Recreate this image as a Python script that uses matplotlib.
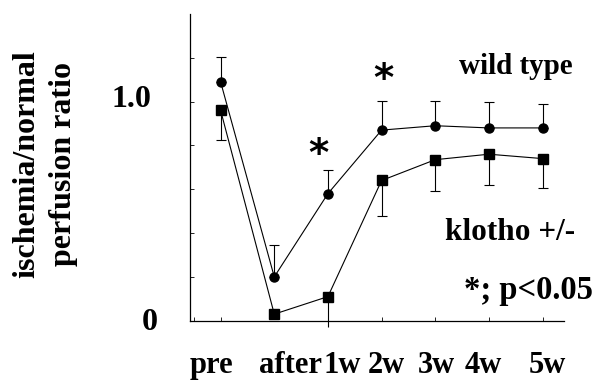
import matplotlib
matplotlib.use("Agg")
import matplotlib.pyplot as plt
import numpy as np

categories = ["pre", "after", "1w", "2w", "3w", "4w", "5w"]
wild_type = [1.09, 0.20, 0.58, 0.87, 0.89, 0.88, 0.88]
wild_err = [0.115, 0.145, 0.11, 0.135, 0.115, 0.12, 0.11]
klotho = [0.96, 0.03, 0.11, 0.64, 0.735, 0.76, 0.74]
klotho_err = [0.135, 0.0, 0.14, 0.16, 0.145, 0.14, 0.135]

W, H = 595, 382
fig = plt.figure(figsize=(W / 100, H / 100), dpi=100)
ax = fig.add_axes([189.5 / W, 1 - 320.7 / H, (564 - 189.5) / W, (320.7 - 14) / H])

serif = ["Liberation Serif", "DejaVu Serif"]
x = np.arange(len(categories))

# wild type: upper error bars only
ax.errorbar(x, wild_type, yerr=[np.zeros(len(x)), wild_err], fmt="-o", color="black",
            lw=0.8, ms=6.5, elinewidth=0.8, capsize=3.5, capthick=0.8, clip_on=False, zorder=3)
# klotho: lower error bars only
eb = ax.errorbar(x, klotho, yerr=[klotho_err, np.zeros(len(x))], fmt="-s", color="black",
                 lw=0.8, ms=6.5, elinewidth=0.8, capsize=3.5, capthick=0.8, clip_on=False, zorder=3)
for cl in eb[1]:
    cl.set_clip_on(False)
    cl.set_markevery([i for i in range(len(x)) if klotho_err[i] > 0 and i != 2])
for lc in eb[2]:
    lc.set_clip_on(False)

ax.set_xlim(-0.58, 6.40)
ax.set_ylim(0, 1.4)
for s in ["top", "right"]:
    ax.spines[s].set_visible(False)
for s in ["left", "bottom"]:
    ax.spines[s].set_linewidth(0.9)

ax.set_yticks(np.arange(0.2, 1.3, 0.2))
ax.set_yticklabels([])
ax.tick_params(axis="y", direction="in", length=3, width=0.6)
ax.set_xticks([-0.5, 0, 3, 4, 5, 6])
ax.set_xticklabels([])
ax.tick_params(axis="x", direction="in", length=3, width=0.6)

def fx(px):
    return px / W

def fy(py):
    return 1 - py / H

# y tick labels
fig.text(fx(131), fy(99), "1.0", ha="center", va="center", family=serif, weight="bold", fontsize=23)
fig.text(fx(150), fy(322), "0", ha="center", va="center", family=serif, weight="bold", fontsize=23)

# x labels
label_px = [211.5, 290, 342, 386, 436, 483, 547]
for lab, px in zip(categories, label_px):
    fig.text(fx(px), fy(373), lab, ha="center", va="baseline", family=serif, weight="bold",
             fontsize=22)

# y label
fig.text(fx(27), fy(164), "ischemia/normal", rotation=90, ha="center", va="center",
         family=serif, weight="bold", fontsize=23)
fig.text(fx(63), fy(164), "perfusion ratio", rotation=90, ha="center", va="center",
         family=serif, weight="bold", fontsize=23)

# annotations
fig.text(fx(573), fy(67), "wild type", ha="right", va="center", family=serif, weight="bold", fontsize=21)
fig.text(fx(575), fy(232), "klotho +/-", ha="right", va="center", family=serif, weight="bold", fontsize=22.5)
fig.text(fx(593), fy(291), "*; p<0.05", ha="right", va="center", family=serif, weight="bold", fontsize=23.5)

# significance asterisks
fig.text(fx(318), fy(155), "*", ha="center", va="center", family="DejaVu Sans", weight="bold", fontsize=28)
fig.text(fx(383), fy(80), "*", ha="center", va="center", family="DejaVu Sans", weight="bold", fontsize=28)

fig.savefig("out.png", dpi=100)
